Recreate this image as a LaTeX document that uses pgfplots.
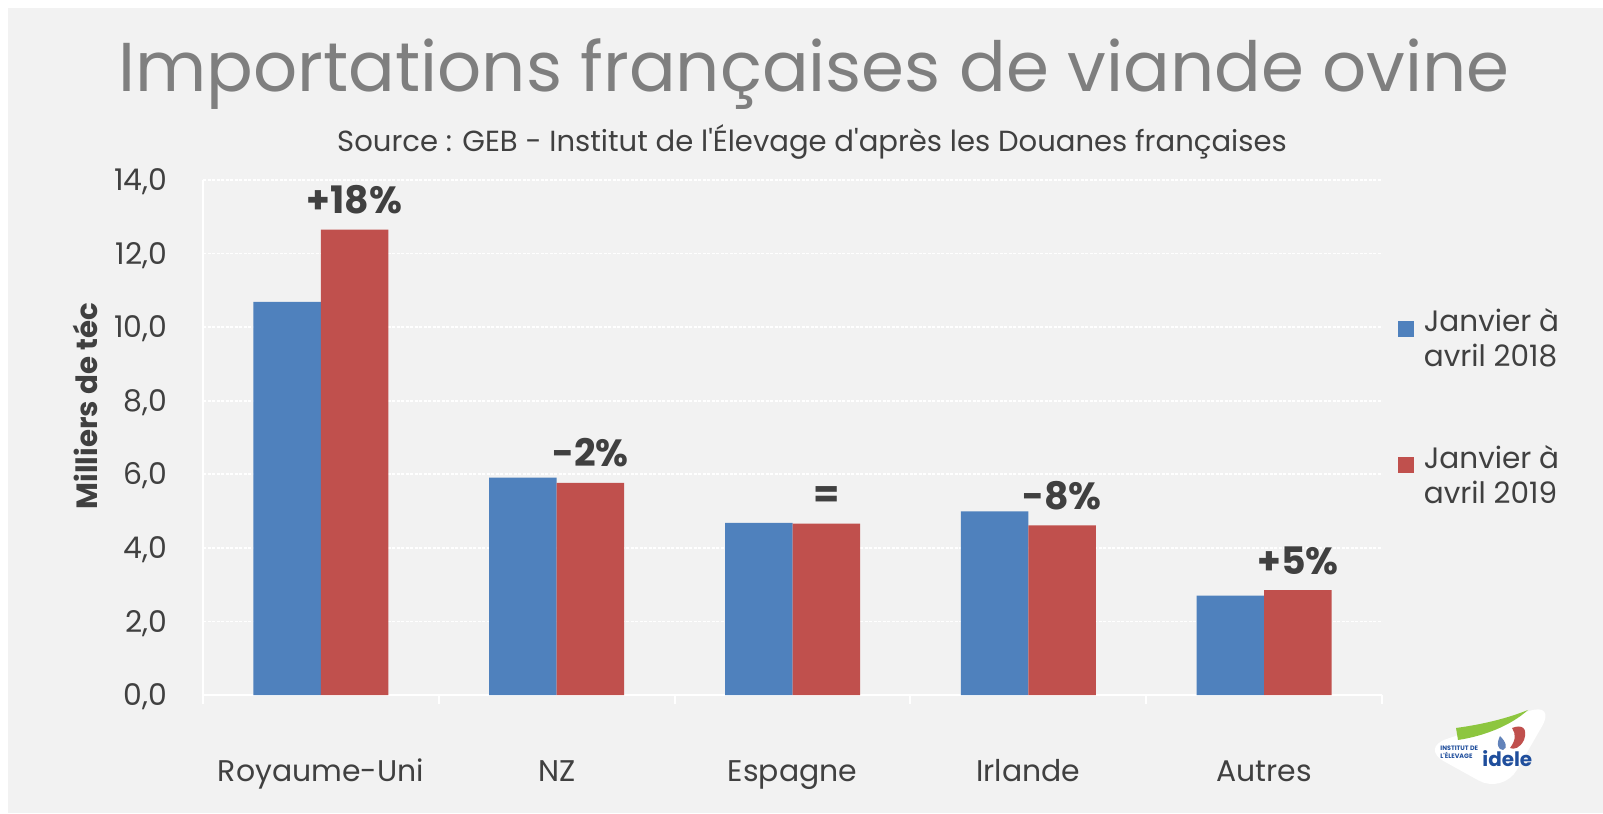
\documentclass[border=0pt]{standalone}
\usepackage{pgfplots}
\pgfplotsset{compat=1.18}
\usepackage{fontspec}
\setmainfont{Poppins}
\definecolor{bg}{HTML}{F2F2F2}
\definecolor{titlegray}{HTML}{7F7F7F}
\definecolor{txt}{HTML}{404040}
\definecolor{barblue}{HTML}{4F81BD}
\definecolor{barred}{HTML}{C0504D}
\definecolor{logoblue}{HTML}{1F4E9C}
\definecolor{logogreen}{HTML}{8DC63F}
\begin{document}
\begin{tikzpicture}
\begin{scope}[x=0.5bp,y=-0.5bp,yshift=406.5bp]
  \fill[white] (0,0) rectangle (1603,813);
  \fill[bg] (8,8) rectangle (1603,813);
  \node[anchor=base, text=titlegray, inner sep=0pt, font=\fontsize{34.7}{38}\selectfont] at (814,92) {Importations françaises de viande ovine};
  \node[anchor=base, text=txt, inner sep=0pt, font=\fontsize{14.6}{17}\selectfont] at (812,152) {Source : GEB - Institut de l\textquotesingle Élevage d\textquotesingle après les Douanes françaises};
  % logo
  \fill[white, rounded corners=14] (1420,748) -- (1556,702) -- (1503,794) -- cycle;
  \fill[logogreen] (1456,728) .. controls (1485,724) and (1508,718) .. (1528,710) .. controls (1510,726) and (1484,736) .. (1458,740) -- cycle;
  \fill[barred] (1512,728) .. controls (1522,724) and (1528,728) .. (1524,740) .. controls (1520,748) and (1514,750) .. (1510,748) .. controls (1516,740) and (1516,734) .. cycle;
  \fill[logoblue!70] (1500,736) .. controls (1496,744) and (1498,750) .. (1503,750) .. controls (1508,748) and (1506,742) .. cycle;
  \node[anchor=base west, inner sep=0pt, text=logoblue, font=\bfseries\fontsize{3.2}{3.8}\selectfont, align=left] at (1440,758) {INSTITUT DE\\L\textquotesingle ÉLEVAGE};
  \node[anchor=base west, inner sep=0pt, text=logoblue, font=\bfseries\fontsize{10}{12}\selectfont] at (1482,767) {idele};
\end{scope}
\begin{axis}[
  at={(101.5bp,59bp)}, anchor=south west,
  scale only axis, width=589.5bp, height=257.5bp,
  xmin=-0.5, xmax=4.5, ymin=0, ymax=14,
  ybar=0pt, bar width=33.75bp,
  axis x line*=bottom, axis y line*=left,
  axis line style={white, line width=1bp, -},
  xtick={0,...,4},
  xticklabels={Royaume-Uni,NZ,Espagne,Irlande,Autres},
  major x tick style={draw=none},
  minor xtick={-0.5,0.5,...,4.5},
  minor x tick style={white, line width=1bp},
  minor tick length=4.5bp, tick align=outside,
  ytick={0,2,...,14},
  major y tick style={draw=none},
  ymajorgrids,
  y grid style={white, line width=0.8bp, dash pattern=on 1.5bp off 0.75bp},
  /pgf/number format/.cd, fixed, fixed zerofill, precision=1, use comma, assume math mode=true,
  /pgfplots/.cd,
  ticklabel style={font=\fontsize{15}{18}\selectfont, text=txt},
  yticklabel style={anchor=base east, inner sep=0pt, xshift=-13.5bp, yshift=-5.3bp},
  xticklabel style={anchor=base, inner sep=0pt, yshift=-39bp},
  ylabel={Milliers de téc},
  ylabel style={at={(axis description cs:-0.1,0.561)}, anchor=center, font=\bfseries\fontsize{14.7}{18}\selectfont, text=txt},
  legend style={draw=none, fill=none, at={(axis description cs:1.0,0.745)}, anchor=north west,
    xshift=7.7bp, yshift=3.6bp,
    font=\fontsize{14.8}{17.5}\selectfont, text=txt, inner sep=0pt, row sep=34bp,
    nodes={align=left, inner xsep=5bp}},
  legend cell align=left,
  legend image code/.code={\fill[#1, draw=none] (0bp,1.2bp) rectangle (8bp,9.2bp);},
]
\addplot[fill=barblue, draw=none] coordinates {(0,10.69) (1,5.91) (2,4.68) (3,4.99) (4,2.70)};
\addlegendentry{Janvier à\\avril 2018}
\addplot[fill=barred, draw=none,
  nodes near coords, point meta=explicit symbolic,
  every node near coord/.append style={anchor=base, yshift=8bp, font=\bfseries\fontsize{19}{22}\selectfont, text=txt}]
  coordinates {(0,12.65) [+18\%] (1,5.77) [-2\%] (2,4.66) [=] (3,4.61) [-8\%] (4,2.85) [+5\%]};
\addlegendentry{Janvier à\\avril 2019}
\end{axis}
\end{tikzpicture}
\end{document}
